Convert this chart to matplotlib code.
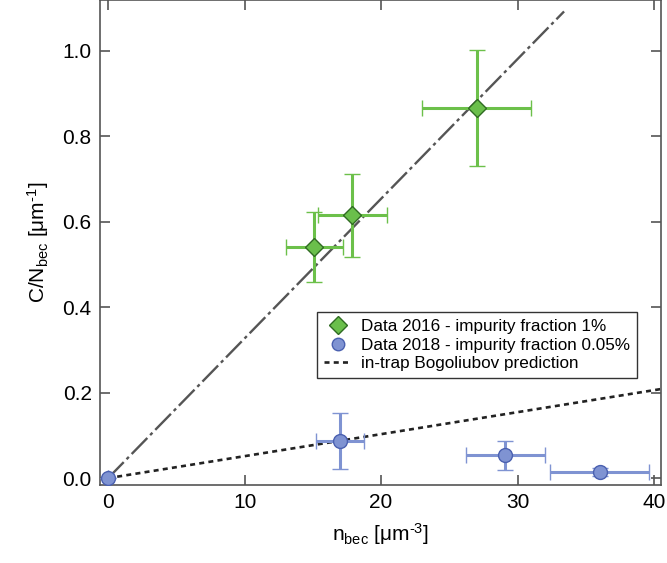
import matplotlib
matplotlib.use("Agg")
import matplotlib.pyplot as plt
from matplotlib.lines import Line2D

plt.rcParams['font.family'] = ['Liberation Sans', 'DejaVu Sans']
plt.rcParams['mathtext.default'] = 'regular'

# Data 2016
x16 = [15.1, 17.9, 27.0]
y16 = [0.541, 0.615, 0.866]
x16_err = [2.1, 2.55, 4.0]
y16_err = [0.083, 0.097, 0.135]

# Data 2018
x18 = [0.0, 17.0, 29.1, 36.0]
y18 = [0.0, 0.087, 0.054, 0.014]
x18_err = [0.0, 1.75, 2.9, 3.6]
y18_err = [0.0, 0.065, 0.034, 0.01]

# Lines
fit_slope = 0.0327
bog_slope = 0.00515
fit_x = [0.0, 33.4]
bog_x = [0.0, 40.5]

fig = plt.figure(figsize=(6.67, 5.63), dpi=100)
ax = fig.add_axes([100/667, 1 - 485/563, 561/667, 485/563])

ax.plot(fit_x, [fit_slope * v for v in fit_x], color='#555555', lw=1.7,
        dashes=(9.5, 1.7, 1.4, 1.7), zorder=2)
ax.plot(bog_x, [bog_slope * v for v in bog_x], color='#222222', lw=1.9,
        dashes=(1.9, 1.6), zorder=2)

ax.errorbar(x16, y16, xerr=x16_err, yerr=y16_err, fmt='D', ms=9,
            mfc='#6abf4b', mec='#2f6b22', mew=1.0, ecolor='#6cc04a',
            elinewidth=2.2, capsize=6, capthick=2.2, zorder=3)
ax.errorbar(x18, y18, xerr=x18_err, yerr=y18_err, fmt='o', ms=10,
            mfc='#7f93d2', mec='#4a60b0', mew=1.0, ecolor='#7f93d2',
            elinewidth=2.2, capsize=6, capthick=2.2, zorder=3)

ax.set_xlim(-0.59, 40.5)
ax.set_ylim(-0.016, 1.119)
ax.set_xticks([0, 10, 20, 30, 40])
ax.set_yticks([0.0, 0.2, 0.4, 0.6, 0.8, 1.0])
ax.set_yticklabels(['0.0', '0.2', '0.4', '0.6', '0.8', '1.0'])

for s in ax.spines.values():
    s.set_color('#555555')
    s.set_linewidth(1.2)
ax.tick_params(direction='in', top=True, right=True, length=7, width=1.2,
               color='#555555', labelsize=15, pad=6)

ax.set_xlabel('n$_{bec}$ [μm$^{‐3}$]', fontsize=15, labelpad=6)
ax.set_ylabel('C/N$_{bec}$ [μm$^{‐1}$]', fontsize=15, labelpad=8)

h = [Line2D([], [], marker='D', ls='none', ms=9, mfc='#6abf4b', mec='#2f6b22'),
     Line2D([], [], marker='o', ls='none', ms=9, mfc='#7f93d2', mec='#4a60b0'),
     Line2D([], [], color='#222222', lw=1.9, dashes=(1.9, 1.6))]
l = ['Data 2016 - impurity fraction 1%',
     'Data 2018 - impurity fraction 0.05%',
     'in-trap Bogoliubov prediction']
leg = ax.legend(h, l, loc='upper left', bbox_to_anchor=((317-100)/561, 1 - 312/485),
                fontsize=12.3, frameon=True, fancybox=False, edgecolor='black',
                handlelength=1.6, handletextpad=0.6, borderpad=0.4, labelspacing=0.22,
                borderaxespad=0)
leg.get_frame().set_linewidth(1.0)

fig.savefig('out.png', dpi=100)
